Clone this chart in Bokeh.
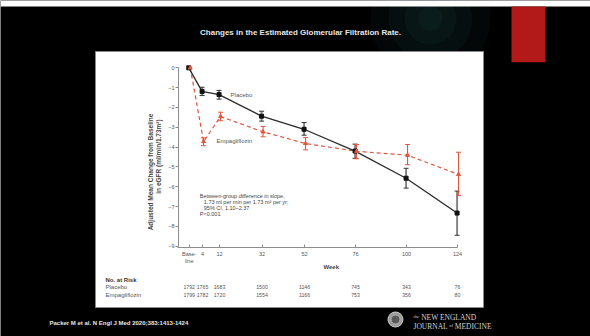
import math
from bokeh.plotting import figure
from bokeh.models import Range1d, LinearAxis, FixedTicker, ColumnDataSource
from bokeh.core.properties import value
from bokeh.embed import file_html
from bokeh.resources import INLINE

# ---------------- data ----------------
weeks = [0, 4, 12, 32, 52, 76, 100, 124]
# position of each visit on the week axis (the baseline visit is drawn just left of week 0)
visit_x = [-2.26, 4, 12, 32, 52, 76, 100, 124]
week_tick_labels = ["Base-\nline", "4", "12", "32", "52", "76", "100", "124"]
y_ticks = [0, -1, -2, -3, -4, -5, -6, -7, -8, -9]

placebo_mean = [0, -1.19, -1.35, -2.44, -3.10, -4.20, -5.57, -7.33]
placebo_hi = [0, -0.98, -1.14, -2.19, -2.76, -3.85, -5.07, -6.22]
placebo_lo = [0, -1.40, -1.58, -2.69, -3.40, -4.57, -6.07, -8.45]

empa_mean = [0, -3.72, -2.46, -3.23, -3.82, -4.21, -4.41, -5.38]
empa_hi = [0, -3.53, -2.24, -2.96, -3.52, -3.87, -3.87, -4.26]
empa_lo = [0, -3.93, -2.67, -3.48, -4.14, -4.59, -4.89, -6.44]

placebo_at_risk = [1792, 1765, 1683, 1500, 1146, 745, 343, 76]
empa_at_risk = [1799, 1782, 1720, 1554, 1166, 753, 356, 80]

title_text = "Changes in the Estimated Glomerular Filtration Rate."
footer_text = "Packer M et al. N Engl J Med 2020;383:1413-1424"

# ---------------- layout constants ----------------
W, H = 590, 336
X0_PX, X_PER_WEEK = 193.5, 2.125      # pixel of week 0, pixels per week
Y0_PX, Y_PER_UNIT = 67.33, 19.815     # pixel of 0 change, pixels per unit
FONT = "Liberation Sans"

x_range = Range1d((0 - X0_PX) / X_PER_WEEK, (W - X0_PX) / X_PER_WEEK)
y_range = Range1d((Y0_PX - H) / Y_PER_UNIT, Y0_PX / Y_PER_UNIT)

p = figure(width=W, height=H, x_range=x_range, y_range=y_range,
           x_axis_type=None, y_axis_type=None, toolbar_location=None,
           output_backend="svg", min_border=0,
           background_fill_color="black", border_fill_color="black",
           outline_line_color=None)
p.extra_x_ranges = {"px": Range1d(0, W)}
p.extra_y_ranges = {"py": Range1d(H, 0)}

# ---------------- slide decoration ----------------
for r, a in [(60, 0.10), (42, 0.12), (26, 0.14), (12, 0.14)]:
    p.scatter([430], [18], size=2 * r, marker="circle", fill_color="#1d4646",
              fill_alpha=a, line_color=None, x_range_name="px", y_range_name="py")
p.quad(left=[0], right=[W], top=[0], bottom=[6], fill_color="white", line_color=None,
       x_range_name="px", y_range_name="py")
p.quad(left=[511], right=[545], top=[6], bottom=[61.7], fill_color="#b11a19",
       line_color=None, x_range_name="px", y_range_name="py")
p.quad(left=[95], right=[483], top=[51], bottom=[307], fill_color="white",
       line_color="#8a8a8a", line_width=1, x_range_name="px", y_range_name="py")

p.text(x=[300], y=[31.5], text=[title_text], text_align="center", text_baseline="middle",
       text_font=value(FONT), text_font_style="bold", text_font_size="8px",
       text_color="#e6e6e6", x_range_name="px", y_range_name="py")
p.text(x=[49], y=[322.5], text=[footer_text], text_align="left", text_baseline="middle",
       text_font=value(FONT), text_font_style="bold", text_font_size="6px",
       text_color="#e6e6e6", x_range_name="px", y_range_name="py")

# NEJM mark
p.scatter([395], [319], size=15, marker="circle", fill_color="#9a9a9a",
          line_color="#cfcfcf", line_width=1, x_range_name="px", y_range_name="py")
p.scatter([395], [319], size=9, marker="circle", fill_color="#5a5a5a",
          line_color="#bdbdbd", line_width=0.8, x_range_name="px", y_range_name="py")
p.text(x=[413, 413], y=[316.7, 325.5], text=["\u1d57\u02b0\u1d49 NEW ENGLAND", "JOURNAL \u1d52\u1da0 MEDICINE"],
       text_align="left", text_baseline="middle", text_font=value("Liberation Serif"),
       text_font_size="7.5px", text_color="#d0d0d0", x_range_name="px", y_range_name="py")

# ---------------- axes ----------------
yaxis = LinearAxis(fixed_location=(178 - X0_PX) / X_PER_WEEK, bounds=(-9, 0),
                   ticker=FixedTicker(ticks=y_ticks))
yaxis.major_label_overrides = {t: ("0" if t == 0 else "\u2212" + str(-t)) for t in y_ticks}
yaxis.axis_line_color = "#8c8c8c"
yaxis.major_tick_line_color = "#8c8c8c"
yaxis.major_tick_out = 3
yaxis.major_tick_in = 0
yaxis.minor_tick_line_color = None
yaxis.major_label_standoff = 1
yaxis.major_label_text_font = FONT
yaxis.major_label_text_font_size = "5.5px"
yaxis.major_label_text_color = "#555555"
p.add_layout(yaxis, "left")

xaxis = LinearAxis(fixed_location=(Y0_PX - 246.7) / Y_PER_UNIT,
                   bounds=((177 - X0_PX) / X_PER_WEEK, 124),
                   ticker=FixedTicker(ticks=visit_x))
xaxis.major_label_overrides = dict(zip(visit_x, week_tick_labels))
xaxis.axis_line_color = "#8c8c8c"
xaxis.major_tick_line_color = "#8c8c8c"
xaxis.major_tick_in = 3
xaxis.major_tick_out = 0
xaxis.minor_tick_line_color = None
xaxis.major_label_standoff = 4
xaxis.major_label_text_font = FONT
xaxis.major_label_text_font_size = "5.5px"
xaxis.major_label_text_color = "#555555"
p.add_layout(xaxis, "below")

# ---------------- series ----------------
PLACEBO_C = "#2b2b2b"
EMPA_C = "#e0563f"
pl_x = [w - 0.2 for w in visit_x]
em_x = [w + 0.5 for w in visit_x]

pl_src = ColumnDataSource(dict(x=pl_x, y=placebo_mean))
em_src = ColumnDataSource(dict(x=em_x, y=empa_mean))
pl_err = ColumnDataSource(dict(x=pl_x[1:], lo=placebo_lo[1:], hi=placebo_hi[1:]))
em_err = ColumnDataSource(dict(x=em_x[1:], lo=empa_lo[1:], hi=empa_hi[1:]))

p.line("x", "y", source=em_src, line_color=EMPA_C, line_width=1.2, line_dash="4 3")
p.line("x", "y", source=pl_src, line_color=PLACEBO_C, line_width=1.3)

# error bars
p.segment(x0="x", y0="lo", x1="x", y1="hi", source=pl_err, line_color="#7d7d7d", line_width=1.8)
for col in ("lo", "hi"):
    p.scatter("x", col, source=pl_err, marker="dash", size=5, line_color="#333333", line_width=1)
p.segment(x0="x", y0="lo", x1="x", y1="hi", source=em_err, line_color=EMPA_C, line_width=1.1)
for col in ("lo", "hi"):
    p.scatter("x", col, source=em_err, marker="dash", size=5, line_color=EMPA_C, line_width=1)

p.scatter("x", "y", source=pl_src, marker="square", size=4, fill_color="#111111",
          line_color="#111111")
p.scatter("x", "y", source=em_src, marker="triangle", size=4, fill_color=EMPA_C,
          line_color=EMPA_C)

# series labels
p.text(x=[17.2], y=[-1.35], text=["Placebo"], text_align="left", text_baseline="middle",
       text_font=value(FONT), text_font_size="6px", text_color="#555555")
p.text(x=[10.6], y=[-3.70], text=["Empagliflozin"], text_align="left", text_baseline="middle",
       text_font=value(FONT), text_font_size="6px", text_color="#555555")

# annotation
p.text(x=[199.3, 203.3, 203.3, 199.3], y=[195, 201, 207, 213],
       text=["Between-group difference in slope,",
             "1.73 ml per min per 1.73 m\u00b2 per yr;",
             "95% CI, 1.10\u20132.37",
             "P<0.001"],
       text_align="left", text_baseline="middle", text_font=value(FONT),
       text_font_size="5.5px", text_color="#444444", x_range_name="px", y_range_name="py")

# axis titles
p.text(x=[149.5], y=[171.5], text=["Adjusted Mean Change from Baseline"], angle=math.pi / 2,
       text_align="center", text_baseline="middle", text_font=value(FONT),
       text_font_style="bold", text_font_size="6.5px", text_color="#444444",
       x_range_name="px", y_range_name="py")
p.text(x=[158.3], y=[156], text=["in eGFR (ml/min/1.73m\u00b2)"], angle=math.pi / 2,
       text_align="center", text_baseline="middle", text_font=value(FONT),
       text_font_style="bold", text_font_size="6.5px", text_color="#444444",
       x_range_name="px", y_range_name="py")
p.text(x=[330.7], y=[266], text=["Week"], text_align="center", text_baseline="middle",
       text_font=value(FONT), text_font_style="bold", text_font_size="6px",
       text_color="#444444", x_range_name="px", y_range_name="py")

# at-risk table
p.text(x=[105], y=[279], text=["No. at Risk"], text_align="left", text_baseline="middle",
       text_font=value(FONT), text_font_style="bold", text_font_size="6px",
       text_color="#333333", x_range_name="px", y_range_name="py")
p.text(x=[105, 105], y=[286.7, 294.3], text=["Placebo", "Empagliflozin"],
       text_align="left", text_baseline="middle", text_font=value(FONT),
       text_font_size="6px", text_color="#555555", x_range_name="px", y_range_name="py")
pl_row = ColumnDataSource(dict(x=visit_x, y=[286.7] * len(weeks), t=[str(v) for v in placebo_at_risk]))
em_row = ColumnDataSource(dict(x=visit_x, y=[294.3] * len(weeks), t=[str(v) for v in empa_at_risk]))
for src in (pl_row, em_row):
    p.text("x", "y", text="t", source=src, text_align="center", text_baseline="middle",
           text_font=value(FONT), text_font_size="5.2px", text_color="#555555",
           y_range_name="py")

open("out.html", "w").write(file_html(p, INLINE))
